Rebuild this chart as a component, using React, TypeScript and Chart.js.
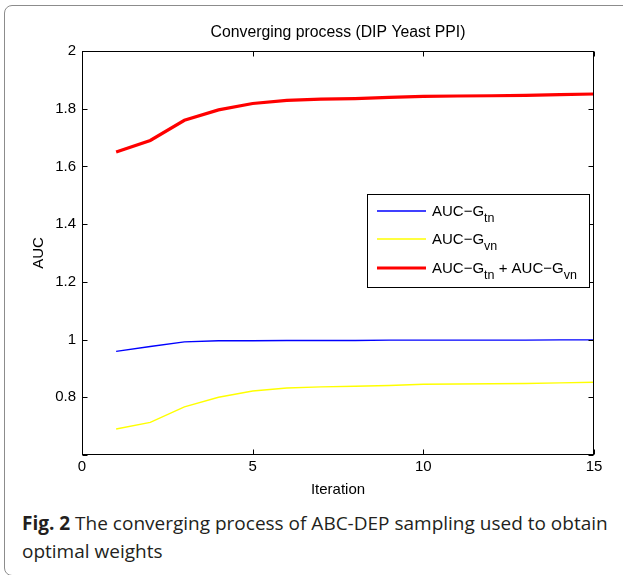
import React, { useEffect, useRef } from 'react';
import { Chart, registerables } from 'chart.js';

Chart.register(...registerables);

// ---- data ----
const iterations = [1, 2, 3, 4, 5, 6, 7, 8, 9, 10, 11, 12, 13, 14, 15];
const aucGtn = [0.959, 0.976, 0.992, 0.996, 0.996, 0.997, 0.997, 0.997, 0.998, 0.998, 0.998, 0.998, 0.998, 0.999, 0.999];
const aucGvn = [0.690, 0.713, 0.767, 0.800, 0.822, 0.832, 0.836, 0.838, 0.841, 0.845, 0.846, 0.847, 0.848, 0.850, 0.852];
const aucSum = [1.650, 1.690, 1.760, 1.796, 1.818, 1.829, 1.833, 1.835, 1.839, 1.843, 1.844, 1.845, 1.846, 1.849, 1.851];
const xTicks = [0, 5, 10, 15];
const yTicks = [0.6, 0.8, 1, 1.2, 1.4, 1.6, 1.8, 2];
const yLabelHidden = [0.6];
const chartTitle = 'Converging process (DIP Yeast PPI)';
const xTitle = 'Iteration';
const yTitle = 'AUC';
const seriesNames: [string, boolean][][] = [
  [['AUC\u2212G', false], ['tn', true]],
  [['AUC\u2212G', false], ['vn', true]],
  [['AUC\u2212G', false], ['tn', true], [' + AUC\u2212G', false], ['vn', true]],
];
const captionBold = 'Fig. 2';
const captionLine1 = ' The converging process of ABC-DEP sampling used to obtain';
const captionLine2 = 'optimal weights';

const FONT = '"Liberation Sans", Arial, Helvetica, sans-serif';
const colors = ['#0000ff', '#ffff00', '#ff0000'];
const widths = [1.4, 1.4, 3.2];

const toPoints = (ys: number[]) => iterations.map((x, i) => ({ x, y: ys[i] }));

const matlabPlugin = {
  id: 'matlabDecor',
  afterDraw(chart: any) {
    const { ctx, chartArea: a, scales } = chart;
    const xs = scales.x;
    const ys = scales.y;
    ctx.save();
    ctx.strokeStyle = '#000';
    ctx.lineWidth = 1;
    const L = Math.round(a.left) + 0.5;
    const T = Math.round(a.top) + 0.5;
    const R = Math.round(a.right) - 0.5;
    const B = Math.round(a.bottom) - 0.5;
    ctx.strokeRect(L, T, R - L, B - T);
    ctx.beginPath();
    const tl = 5;
    xTicks.forEach((v) => {
      const px = Math.round(xs.getPixelForValue(v)) + 0.5;
      ctx.moveTo(px, B); ctx.lineTo(px, B - tl);
      ctx.moveTo(px, T); ctx.lineTo(px, T + tl);
    });
    yTicks.forEach((v) => {
      const py = Math.round(ys.getPixelForValue(v)) + 0.5;
      ctx.moveTo(L, py); ctx.lineTo(L + tl, py);
      ctx.moveTo(R, py); ctx.lineTo(R - tl, py);
    });
    ctx.stroke();

    // titles
    ctx.fillStyle = '#000';
    ctx.textAlign = 'center';
    ctx.textBaseline = 'middle';
    const cx = (a.left + a.right) / 2;
    ctx.font = `15.8px ${FONT}`;
    ctx.fillText(chartTitle, cx, a.top - 18);
    ctx.font = `15px ${FONT}`;
    ctx.fillText(xTitle, cx, a.bottom + 35);
    ctx.save();
    ctx.translate(39, (a.top + a.bottom) / 2);
    ctx.rotate(-Math.PI / 2);
    ctx.fillText(yTitle, 0, 0);
    ctx.restore();

    // legend
    const lx = 367.5, ly = 194.5, lw = 222, lh = 93;
    ctx.fillStyle = '#fff';
    ctx.fillRect(lx, ly, lw, lh);
    ctx.strokeStyle = '#000';
    ctx.lineWidth = 1;
    ctx.strokeRect(lx, ly, lw, lh);
    const rows = [211, 239, 268];
    seriesNames.forEach((parts, i) => {
      const y = rows[i];
      ctx.strokeStyle = colors[i];
      ctx.lineWidth = widths[i];
      ctx.beginPath();
      ctx.moveTo(377, y);
      ctx.lineTo(426, y);
      ctx.stroke();
      let x = 432;
      ctx.fillStyle = '#000';
      ctx.textAlign = 'left';
      ctx.textBaseline = 'alphabetic';
      parts.forEach(([t, sub]) => {
        ctx.font = sub ? `12.5px ${FONT}` : `15px ${FONT}`;
        ctx.fillText(t, x, sub ? y + 11 : y + 5);
        x += ctx.measureText(t).width;
      });
    });
    ctx.restore();
  },
};

export default function App() {
  const ref = useRef<HTMLCanvasElement | null>(null);

  useEffect(() => {
    if (!ref.current) return;
    const chart = new Chart(ref.current, {
      type: 'line',
      data: {
        datasets: [
          { label: 'AUC-Gtn', data: toPoints(aucGtn), borderColor: colors[0], borderWidth: widths[0], pointRadius: 0, tension: 0, fill: false },
          { label: 'AUC-Gvn', data: toPoints(aucGvn), borderColor: colors[1], borderWidth: widths[1], pointRadius: 0, tension: 0, fill: false },
          { label: 'AUC-Gtn + AUC-Gvn', data: toPoints(aucSum), borderColor: colors[2], borderWidth: widths[2], pointRadius: 0, tension: 0, fill: false },
        ],
      },
      options: {
        responsive: false,
        animation: false,
        devicePixelRatio: 1,
        layout: { padding: { left: 0, top: 51, right: 29, bottom: 0 } },
        plugins: { legend: { display: false }, title: { display: false }, tooltip: { enabled: false } },
        scales: {
          x: {
            type: 'linear',
            min: 0,
            max: 15,
            afterFit: (s: any) => { s.height = 45; },
            afterBuildTicks: (s: any) => { s.ticks = xTicks.map((v) => ({ value: v })); },
            grid: { display: false, drawTicks: false },
            border: { display: false },
            ticks: { color: '#000', font: { family: FONT, size: 15 }, padding: 3, autoSkip: false, maxRotation: 0, callback: (v: any) => String(v) },
          },
          y: {
            type: 'linear',
            min: 0.6,
            max: 2,
            afterFit: (s: any) => { s.width = 82; },
            afterBuildTicks: (s: any) => { s.ticks = yTicks.map((v) => ({ value: v })); },
            grid: { display: false, drawTicks: false },
            border: { display: false },
            ticks: {
              color: '#000',
              font: { family: FONT, size: 15 },
              padding: 6,
              autoSkip: false,
              callback: (v: any) => (yLabelHidden.includes(+(+v).toFixed(1)) ? '' : String(+(+v).toFixed(1))),
            },
          },
        },
      },
      plugins: [matlabPlugin],
    });
    return () => chart.destroy();
  }, []);

  return (
    <div style={{ position: 'fixed', left: 0, top: 0, width: 623, height: 575, background: '#fff', overflow: 'hidden' }}>
      <div
        style={{
          position: 'absolute', left: 4, top: 5, width: 660, height: 571,
          border: '1.4px solid #8c8c8c', borderRadius: 8, boxSizing: 'border-box',
        }}
      />
      <canvas ref={ref} width={623} height={500} style={{ position: 'absolute', left: 0, top: 0, width: 623, height: 500 }} />
      <div
        style={{
          position: 'absolute', left: 22, top: 509, width: 600,
          fontFamily: '"Open Sans", sans-serif', fontSize: 19, lineHeight: '28px', color: '#231f20',
          whiteSpace: 'nowrap',
        }}
      >
        <span style={{ fontWeight: 700 }}>{captionBold}</span>
        {captionLine1}
        <br />
        {captionLine2}
      </div>
    </div>
  );
}
